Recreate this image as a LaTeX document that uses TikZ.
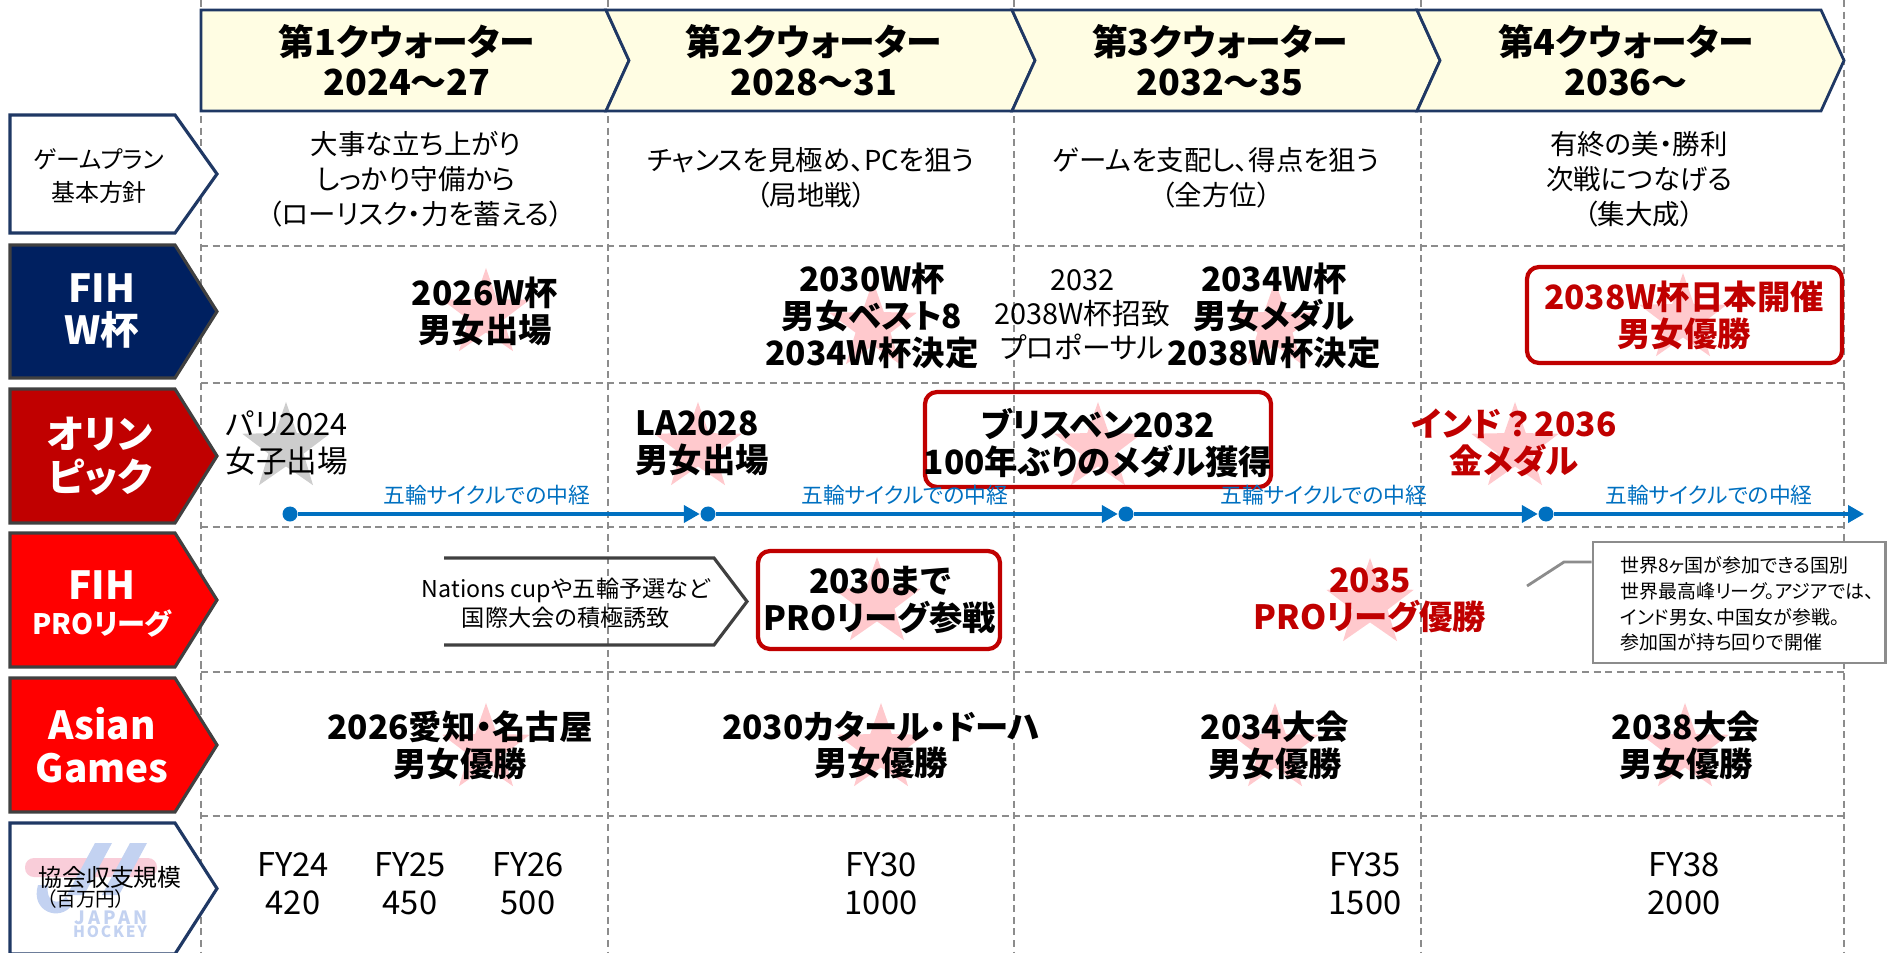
\documentclass[tikz,border=0pt]{standalone}
\usepackage{fontspec}
\setmainfont{Noto Sans CJK JP}[RawFeature=+palt]
\usetikzlibrary{arrows.meta,shapes.geometric}

\definecolor{hdrnavy}{HTML}{1F3864}
\definecolor{hdrfill}{HTML}{FFFDE3}
\definecolor{fihnavy}{HTML}{002060}
\definecolor{darkred}{HTML}{C00000}
\definecolor{brightred}{HTML}{FF0000}
\definecolor{tabgray}{HTML}{404040}
\definecolor{gridgray}{HTML}{8C8C8C}
\definecolor{cycleblue}{HTML}{0070C0}
\definecolor{starpink}{HTML}{FFC9CD}
\definecolor{stargray}{HTML}{CDCDCD}
\definecolor{logoblue}{HTML}{C3D2F1}
\definecolor{logopink}{HTML}{F9CDD9}

\newcommand\fsz[2]{\fontsize{#1}{#2}\selectfont}
\newcommand\wideq{{\addfontfeature{RawFeature=-palt}？}}

\tikzset{
  gridline/.style={draw=gridgray, dash pattern=on 2pt off 1.3pt, line width=0.45pt},
  quarter/.style={draw=hdrnavy, fill=hdrfill, line width=0.8pt, line join=miter},
  hdrtext/.style={align=center, font=\fsz{10.2}{11.4}\bfseries},
  tab/.style={line width=0.9pt, line join=miter},
  tabtext/.style={align=center, text=white, font=\fsz{11}{12.2}\bfseries},
  plantext/.style={align=center, font=\fsz{7.8}{10}},
  goal/.style={align=center, font=\fsz{9.5}{10.5}\bfseries},
  redgoal/.style={goal, text=darkred},
  fytext/.style={align=center, font=\fsz{9.3}{10.8}},
  medal/.style={star, star points=5, star point ratio=2.5, fill=starpink, minimum size=0.92cm, inner sep=0pt},
  redframe/.style={draw=darkred, line width=1.2pt, rounded corners=0.12cm},
  cyclenote/.style={text=cycleblue, font=\fsz{6.2}{7.4}, inner sep=1pt},
  cycleline/.style={draw=cycleblue, line width=1.1pt, -{Triangle[length=0.16cm,width=0.17cm]}},
  milestone/.style={circle, fill=cycleblue, inner sep=0pt, minimum size=0.15cm},
}

\begin{document}
\begin{tikzpicture}[x=0.01cm,y=-0.01cm]
\useasboundingbox (0,0) rectangle (1892,952);

% dashed grid
\foreach \gx in {201,608,1014,1421,1844}
  \draw[gridline] (\gx,0) -- (\gx,952);
\foreach \gy in {246,383,527,672,816}
  \draw[gridline] (201,\gy) -- (1844,\gy);

% quarters
\foreach \xa/\xb/\nd in {201/606/0, 606/1012/23, 1012/1417/23, 1417/1821/23}
  \draw[quarter] (\xa,10) -- (\xb,10) -- (\xb+23,60.5) -- (\xb,111) -- (\xa,111) -- (\xa+\nd,60.5) -- cycle;
\node[hdrtext] (q1) at (407,60) {第1クウォーター\\2024～27};
\node[hdrtext] (q2) at (814,60) {第2クウォーター\\2028～31};
\node[hdrtext] (q3) at (1220,60) {第3クウォーター\\2032～35};
\node[hdrtext] (q4) at (1626,60) {第4クウォーター\\2036～};

% row tabs
\foreach \ya/\yb/\fc/\dc in {115/233/white/hdrnavy, 245/378/fihnavy/tabgray, 389/523/darkred/tabgray,
    533/667/brightred/tabgray, 678/812/brightred/tabgray, 823/954/white/hdrnavy}
  \draw[tab, fill=\fc, draw=\dc] (10,\ya) -- (175,\ya) -- (217,{(\ya+\yb)/2}) -- (175,\yb) -- (10,\yb) -- cycle;

% logo behind the budget tab
\fill[logopink, rounded corners=0.09cm] (25,858) rectangle (157,877);
\fill[logoblue] (95,843) -- (112,843) -- (84,895) -- (67,895) -- cycle;
\fill[logoblue] (130,843) -- (147,843) -- (119,895) -- (102,895) -- cycle;
\fill[logoblue] (38,885) .. controls (30,912) and (60,922) .. (72,905) -- (66,897) .. controls (58,906) and (45,902) .. (48,885) -- cycle;
\node[text=logoblue, font=\fsz{5.2}{6}\bfseries\addfontfeature{LetterSpace=18}, inner sep=0pt] (logoA) at (111,918) {JAPAN};
\node[text=logoblue, font=\fsz{4.4}{5}\bfseries\addfontfeature{LetterSpace=12}, inner sep=0pt] (logoB) at (110,932) {HOCKEY};

\node[align=center, font=\fsz{6.8}{9.6}] (planlbl) at (99,176) {ゲームプラン\\基本方針};
\node[tabtext] (fihlbl) at (102,311) {FIH\\W杯};
\node[tabtext] (olylbl) at (100,456) {オリン\\ピック};
\node[tabtext] (prolblA) at (102,585) {FIH};
\node[text=white, font=\fsz{8}{9}\bfseries] (prolblB) at (102,624) {PROリーグ};
\node[tabtext, font=\fsz{11}{12.4}\bfseries] (asialbl) at (102,745) {Asian\\Games};
\node[font=\fsz{6.8}{8}, inner sep=0pt] (budlblA) at (110,877) {協会収支規模};
\node[font=\fsz{5.6}{6.6}, anchor=west, inner sep=0pt] (budlblB) at (46,899) {（百万円）};

% stars
\foreach \sx/\sy in {486/314, 873/327, 1275/327, 1683/319, 698/448, 1098/448, 1515/448,
    877/603, 1370/604, 486/749, 881/749, 1275/749, 1685/749}
  \node[medal] at (\sx,\sy) {};
\node[medal, fill=stargray] at (286,448) {};

% framed goals
\draw[redframe] (1527,267) rectangle (1842,363);
\draw[redframe] (925,392) rectangle (1271,487);
\draw[redframe] (758,551) rectangle (1000,649);

% game plan
\node[plantext] (plan1) at (416,179) {大事な立ち上がり\\しっかり守備から\\（ローリスク・力を蓄える）};
\node[plantext] (plan2) at (811,178) {チャンスを見極め、PCを狙う\\（局地戦）};
\node[plantext] (plan3) at (1216,178) {ゲームを支配し、得点を狙う\\（全方位）};
\node[plantext] (plan4) at (1639,179) {有終の美・勝利\\次戦につなげる\\（集大成）};

% world cup
\node[goal] (wc26) at (485,311) {2026W杯\\男女出場};
\node[goal] (wc30) at (872,316) {2030W杯\\男女ベスト8\\2034W杯決定};
\node[align=center, font=\fsz{8.2}{9.7}] (wcbid) at (1082,315) {2032\\2038W杯招致\\プロポーサル};
\node[goal] (wc34) at (1274,316) {2034W杯\\男女メダル\\2038W杯決定};
\node[redgoal] (wc38) at (1684,315) {2038W杯日本開催\\男女優勝};

% olympics
\node[align=left, anchor=west, font=\fsz{8.7}{10.5}] (paris) at (213,443) {パリ2024\\女子出場};
\node[goal, align=left, anchor=west] (la) at (623,443) {LA2028\\男女出場};
\node[goal] (brisbane) at (1098,443) {ブリスベン2032\\100年ぶりのメダル獲得};
\node[redgoal] (india) at (1514,443) {インド\wideq 2036\\金メダル};

\node[milestone] (m24) at (290,514) {};
\node[milestone] (m28) at (708,514) {};
\node[milestone] (m32) at (1126,514) {};
\node[milestone] (m36) at (1546,514) {};
\coordinate (m40) at (1864,514);
\draw[cycleline] (m24) -- node[cyclenote, above=1pt, pos=0.47] {五輪サイクルでの中経} (m28);
\draw[cycleline] (m28) -- node[cyclenote, above=1pt, pos=0.47] {五輪サイクルでの中経} (m32);
\draw[cycleline] (m32) -- node[cyclenote, above=1pt, pos=0.47] {五輪サイクルでの中経} (m36);
\draw[cycleline] (m36) -- node[cyclenote, above=1pt, pos=0.5] {五輪サイクルでの中経} (m40);

% pro league
\draw[tabgray, line width=0.9pt, line join=miter] (444,558) -- (714,558) -- (747,601.5) -- (714,645) -- (444,645);
\node[align=center, font=\fsz{6.6}{8.2}] (nations) at (566,603) {Nations cupや五輪予選など\\国際大会の積極誘致};
\node[goal] (pro30) at (880,600) {2030まで\\PROリーグ参戦};
\node[redgoal] (pro35) at (1370,600) {2035\\PROリーグ優勝};
\node[draw=gridgray, line width=0.8pt, fill=white, minimum width=2.92cm, minimum height=1.21cm] (pronote) at (1739,602.5) {};
\node[align=left, anchor=west, font=\fsz{5.4}{7.3}] (protext) at (1608,604) {世界8ヶ国が参加できる国別\\世界最高峰リーグ。アジアでは、\\インド男女、中国女が参戦。\\参加国が持ち回りで開催};
\coordinate (notetip) at (1527,586);
\draw[gridgray, line width=0.8pt] (pronote.west |- 0,562) -- (1564,562) -- (notetip);

% asian games
\node[goal] (ag26) at (460,745) {2026愛知・名古屋\\男女優勝};
\node[goal] (ag30) at (881,745) {2030カタール・ドーハ\\男女優勝};
\node[goal] (ag34) at (1275,745) {2034大会\\男女優勝};
\node[goal] (ag38) at (1686,745) {2038大会\\男女優勝};

% budget
\foreach \fx/\fy/\amt [count=\k] in {293/24/420, 410/25/450, 528/26/500, 881/30/1000, 1365/35/1500, 1684/38/2000}
  \node[fytext] (fy\k) at (\fx,884) {FY\fy\\\amt};
\end{tikzpicture}
\end{document}
